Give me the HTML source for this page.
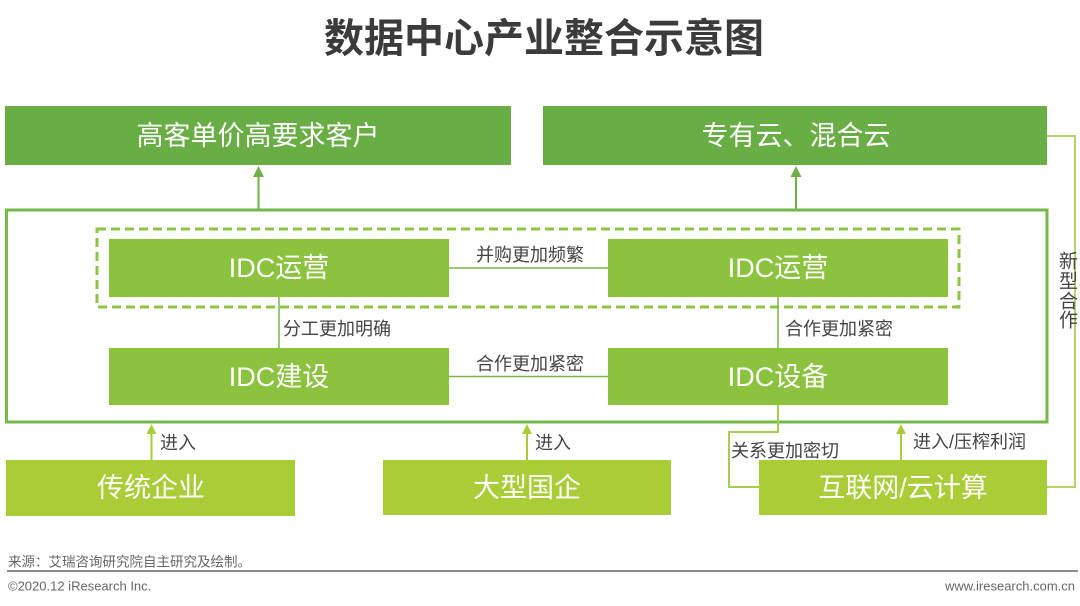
<!DOCTYPE html>
<html>
<head>
<meta charset="utf-8">
<style>
html,body{margin:0;padding:0;background:#fff;}
svg{display:block;}
text{font-family:"Liberation Sans","Noto Sans CJK SC",sans-serif;}
</style>
</head>
<body>
<svg width="1080" height="606" viewBox="0 0 1080 606" xmlns="http://www.w3.org/2000/svg">
  <rect x="0" y="0" width="1080" height="606" fill="#ffffff"/>
  <!-- Title -->
  <text x="544" y="39" text-anchor="middle" dominant-baseline="central" font-size="40" font-weight="bold" fill="#3b3b3b">数据中心产业整合示意图</text>

  <!-- Top boxes -->
  <rect x="5" y="106" width="506" height="59" fill="#69ae45"/>
  <text x="258" y="136" text-anchor="middle" dominant-baseline="central" font-size="27" fill="#ffffff">高客单价高要求客户</text>
  <rect x="543" y="106" width="504" height="59" fill="#69ae45"/>
  <text x="796" y="136" text-anchor="middle" dominant-baseline="central" font-size="27" fill="#ffffff">专有云、混合云</text>

  <!-- arrows up to top boxes -->
  <line x1="258.5" y1="209" x2="258.5" y2="174" stroke="#6db044" stroke-width="2"/>
  <polygon points="258.5,166 253,177 264,177" fill="#6db044"/>
  <line x1="796" y1="209" x2="796" y2="174" stroke="#6db044" stroke-width="2"/>
  <polygon points="796,166 790.5,177 801.5,177" fill="#6db044"/>

  <!-- Outer box -->
  <rect x="6.5" y="210" width="1040.5" height="212" fill="none" stroke="#76b84a" stroke-width="3"/>

  <!-- Dashed box -->
  <rect x="97" y="229" width="862" height="78" fill="none" stroke="#8dc541" stroke-width="3" stroke-dasharray="9 5"/>

  <!-- IDC boxes -->
  <rect x="109" y="239" width="340" height="58" fill="#8bc33f"/>
  <text x="279" y="268" text-anchor="middle" dominant-baseline="central" font-size="27" fill="#ffffff">IDC运营</text>
  <rect x="608" y="239" width="340" height="58" fill="#8bc33f"/>
  <text x="778" y="268" text-anchor="middle" dominant-baseline="central" font-size="27" fill="#ffffff">IDC运营</text>
  <rect x="109" y="348" width="340" height="57" fill="#8bc33f"/>
  <text x="279" y="377" text-anchor="middle" dominant-baseline="central" font-size="27" fill="#ffffff">IDC建设</text>
  <rect x="608" y="348" width="340" height="57" fill="#8bc33f"/>
  <text x="778" y="377" text-anchor="middle" dominant-baseline="central" font-size="27" fill="#ffffff">IDC设备</text>

  <!-- connectors between IDC boxes -->
  <line x1="449" y1="268" x2="608" y2="268" stroke="#7cb64a" stroke-width="1.5"/>
  <line x1="449" y1="376.5" x2="608" y2="376.5" stroke="#7cb64a" stroke-width="1.5"/>
  <line x1="279" y1="297" x2="279" y2="348" stroke="#7cb64a" stroke-width="1.5"/>
  <line x1="778" y1="297" x2="778" y2="348" stroke="#7cb64a" stroke-width="1.5"/>

  <text x="530" y="255" text-anchor="middle" dominant-baseline="central" font-size="18" fill="#444">并购更加频繁</text>
  <text x="530" y="364" text-anchor="middle" dominant-baseline="central" font-size="18" fill="#444">合作更加紧密</text>
  <text x="283" y="329" dominant-baseline="central" font-size="18" fill="#444">分工更加明确</text>
  <text x="785" y="329" dominant-baseline="central" font-size="18" fill="#444">合作更加紧密</text>

  <!-- Bottom boxes -->
  <rect x="6" y="460" width="289" height="56" fill="#a8cd37"/>
  <text x="151" y="488" text-anchor="middle" dominant-baseline="central" font-size="27" fill="#ffffff">传统企业</text>
  <rect x="383" y="460" width="288" height="55" fill="#a8cd37"/>
  <text x="527" y="488" text-anchor="middle" dominant-baseline="central" font-size="27" fill="#ffffff">大型国企</text>
  <rect x="759" y="460" width="288" height="55" fill="#a8cd37"/>
  <text x="903" y="488" text-anchor="middle" dominant-baseline="central" font-size="27" fill="#ffffff">互联网/云计算</text>

  <!-- bottom arrows -->
  <line x1="151.5" y1="460" x2="151.5" y2="432" stroke="#a8cd37" stroke-width="2"/>
  <polygon points="151.5,424 146.5,434 156.5,434" fill="#a8cd37"/>
  <line x1="527" y1="460" x2="527" y2="432" stroke="#a8cd37" stroke-width="2"/>
  <polygon points="527,424 522,434 532,434" fill="#a8cd37"/>
  <line x1="901" y1="460" x2="901" y2="432" stroke="#a8cd37" stroke-width="2"/>
  <polygon points="901,424 896,434 906,434" fill="#a8cd37"/>

  <text x="160" y="443" dominant-baseline="central" font-size="18" fill="#444">进入</text>
  <text x="535" y="443" dominant-baseline="central" font-size="18" fill="#444">进入</text>
  <text x="913" y="442" dominant-baseline="central" font-size="18" fill="#444">进入/压榨利润</text>
  <text x="731" y="451" dominant-baseline="central" font-size="18" fill="#444">关系更加密切</text>

  <!-- 关系更加密切 connector -->
  <polyline points="778,405 778,432 729,432 729,487 759,487" fill="none" stroke="#a6cc52" stroke-width="2"/>

  <!-- 新型合作 connector -->
  <polyline points="1047,136 1075,136 1075,487 1047,487" fill="none" stroke="#b3d46a" stroke-width="2"/>
  <text x="1059" y="262" dominant-baseline="central" font-size="19" fill="#444">新</text>
  <text x="1059" y="282" dominant-baseline="central" font-size="19" fill="#444">型</text>
  <text x="1059" y="302" dominant-baseline="central" font-size="19" fill="#444">合</text>
  <text x="1059" y="321" dominant-baseline="central" font-size="19" fill="#444">作</text>

  <!-- Footer -->
  <text x="8" y="562" dominant-baseline="central" font-size="13.5" fill="#666">来源：艾瑞咨询研究院自主研究及绘制。</text>
  <line x1="7" y1="571" x2="1078" y2="571" stroke="#8a8a8a" stroke-width="2"/>
  <text x="8" y="586" dominant-baseline="central" font-size="13" fill="#666">©2020.12 iResearch Inc.</text>
  <text x="1075" y="586" text-anchor="end" dominant-baseline="central" font-size="13" fill="#666">www.iresearch.com.cn</text>
</svg>
</body>
</html>
